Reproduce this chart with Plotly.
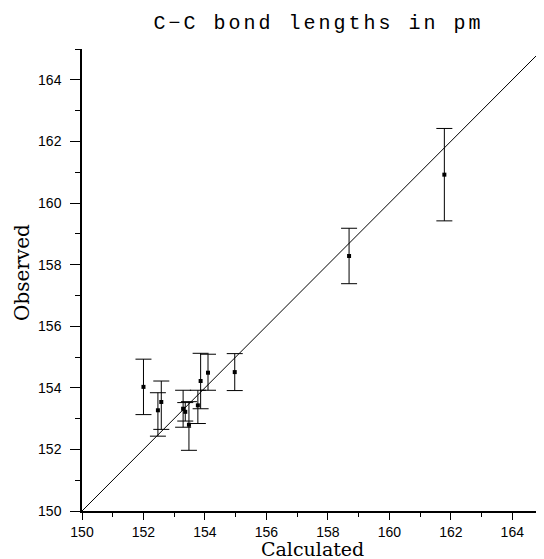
import plotly.graph_objects as go

# ----------------------------
# Data
# ----------------------------

calculated = [152.0, 152.58, 152.47, 153.29, 153.36, 153.48, 153.77, 153.86, 154.10, 154.97, 158.69, 161.79]
observed = [154.03, 153.54, 153.27, 153.32, 153.22, 152.80, 153.43, 154.22, 154.49, 154.51, 158.28, 160.92]
err_plus = [0.9, 0.68, 0.57, 0.6, 0.3, 0.75, 0.49, 0.9, 0.6, 0.6, 0.9, 1.5]
err_minus = [0.9, 0.89, 0.84, 0.6, 0.3, 0.83, 0.59, 0.9, 0.57, 0.6, 0.9, 1.5]

diag = [150, 165]
axis_range = [150, 165]
tick_vals = [150, 152, 154, 156, 158, 160, 162, 164]

SERIF = "DejaVu Serif"
SANS = "Liberation Sans"

# the page body keeps its default 8px margin, so the figure is 8px smaller
W, H = 536, 551

# ----------------------------
# Figure
# ----------------------------

fig = go.Figure()

fig.add_trace(go.Scatter(
    x=diag, y=diag, mode="lines",
    line=dict(color="black", width=1),
    hoverinfo="skip", showlegend=False,
))

fig.add_trace(go.Scatter(
    x=calculated, y=observed, mode="markers",
    marker=dict(color="black", size=4, symbol="square"),
    error_y=dict(type="data", symmetric=False, array=err_plus, arrayminus=err_minus,
                 color="black", thickness=1, width=8),
    showlegend=False,
))

base_axis = dict(
    range=axis_range, tickvals=tick_vals,
    showgrid=False, zeroline=False,
    showline=True, linecolor="black", linewidth=1.5,
    tickcolor="black", tickwidth=1.2,
    tickfont=dict(family=SANS, size=14, color="black"),
)

fig.update_layout(
    width=W, height=H,
    margin=dict(l=74, r=1, t=41, b=48),
    paper_bgcolor="white", plot_bgcolor="white",
    title=dict(text="<span style='letter-spacing:3px'>C\u2212C bond lengths in pm</span>",
               x=0.5 + 6 / 461, xanchor="center", xref="paper",
               y=1 - 14 / H, yanchor="middle",
               font=dict(family="Liberation Mono", size=20, color="black")),
    xaxis=dict(
        **base_axis, ticks="outside", ticklen=7,
        minor=dict(dtick=1, ticks="outside", ticklen=4, tickcolor="black", tickwidth=1.2),
    ),
    yaxis=dict(
        **base_axis, ticks="outside", ticklen=10, ticklabelstandoff=6,
        minor=dict(dtick=1, ticks="outside", ticklen=5, tickcolor="black", tickwidth=1.2),
    ),
    xaxis2=dict(
        **base_axis, overlaying="x", side="top", anchor="y",
        ticks="inside", ticklen=6, showticklabels=False,
        minor=dict(dtick=1, ticks="inside", ticklen=5, tickcolor="black", tickwidth=1.2),
    ),
    yaxis2=dict(
        **base_axis, overlaying="y", side="right", anchor="x",
        ticks="inside", ticklen=6, showticklabels=False,
        minor=dict(dtick=1, ticks="inside", ticklen=5, tickcolor="black", tickwidth=1.2),
    ),
    annotations=[
        dict(text="Calculated", xref="paper", yref="paper", x=0.5, y=0,
             xanchor="center", yanchor="middle", yshift=-38, showarrow=False,
             font=dict(family=SERIF, size=19, color="black")),
        dict(text="Observed", xref="paper", yref="paper", x=0, y=0.5,
             xanchor="center", yanchor="middle", xshift=-60, yshift=7,
             textangle=-90, showarrow=False,
             font=dict(family=SERIF, size=20, color="black")),
    ],
)

fig.write_html("out.html")
